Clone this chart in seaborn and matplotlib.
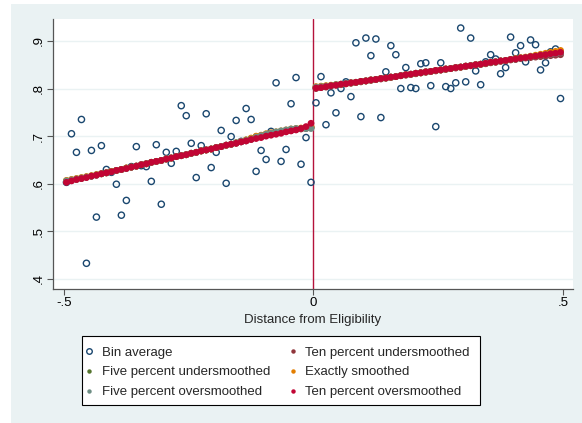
import numpy as np
import pandas as pd
import seaborn as sns
import matplotlib
matplotlib.use("Agg")
import matplotlib.pyplot as plt
from matplotlib.patches import Rectangle
from matplotlib.lines import Line2D

# ---- data ----
bin_x_left = [-0.495, -0.485, -0.475, -0.465, -0.455, -0.445, -0.435, -0.425, -0.415, -0.405,
              -0.395, -0.385, -0.375, -0.365, -0.355, -0.345, -0.335, -0.325, -0.315, -0.305,
              -0.295, -0.285, -0.275, -0.265, -0.255, -0.245, -0.235, -0.225, -0.215, -0.205,
              -0.195, -0.185, -0.175, -0.165, -0.155, -0.145, -0.135, -0.125, -0.115, -0.105,
              -0.095, -0.085, -0.075, -0.065, -0.055, -0.045, -0.035, -0.025, -0.015, -0.005]
bin_x_right = [0.005, 0.015, 0.025, 0.035, 0.045, 0.055, 0.065, 0.075, 0.085, 0.095,
               0.105, 0.115, 0.125, 0.135, 0.145, 0.155, 0.165, 0.175, 0.185, 0.195,
               0.205, 0.215, 0.225, 0.235, 0.245, 0.255, 0.265, 0.275, 0.285, 0.295,
               0.305, 0.315, 0.325, 0.335, 0.345, 0.355, 0.365, 0.375, 0.385, 0.395,
               0.405, 0.415, 0.425, 0.435, 0.445, 0.455, 0.465, 0.475, 0.485, 0.495]

bin_avg_left = [0.603, 0.705, 0.666, 0.735, 0.433, 0.670, 0.530, 0.680, 0.630, 0.624,
                0.599, 0.534, 0.565, 0.636, 0.678, 0.638, 0.636, 0.605, 0.682, 0.557,
                0.666, 0.643, 0.668, 0.764, 0.743, 0.685, 0.613, 0.680, 0.747, 0.634,
                0.666, 0.712, 0.601, 0.699, 0.733, 0.689, 0.758, 0.735, 0.626, 0.670,
                0.651, 0.710, 0.812, 0.647, 0.672, 0.768, 0.823, 0.641, 0.697, 0.603]
bin_avg_right = [0.770, 0.825, 0.724, 0.791, 0.749, 0.800, 0.814, 0.783, 0.896, 0.741,
                 0.906, 0.869, 0.904, 0.739, 0.835, 0.890, 0.871, 0.800, 0.844, 0.802,
                 0.800, 0.852, 0.854, 0.806, 0.720, 0.854, 0.804, 0.800, 0.812, 0.927,
                 0.814, 0.906, 0.837, 0.808, 0.856, 0.871, 0.862, 0.831, 0.844, 0.908,
                 0.875, 0.890, 0.856, 0.902, 0.892, 0.839, 0.854, 0.877, 0.883, 0.779]

ten_over_left = [0.603, 0.606, 0.609, 0.611, 0.613, 0.616, 0.618, 0.621, 0.623, 0.625,
                 0.628, 0.630, 0.632, 0.635, 0.637, 0.640, 0.642, 0.645, 0.647, 0.649,
                 0.652, 0.654, 0.657, 0.659, 0.661, 0.664, 0.666, 0.669, 0.671, 0.673,
                 0.676, 0.678, 0.681, 0.683, 0.685, 0.688, 0.690, 0.693, 0.695, 0.697,
                 0.700, 0.702, 0.704, 0.706, 0.709, 0.711, 0.713, 0.716, 0.720, 0.727]
ten_over_right = [0.801, 0.802, 0.804, 0.806, 0.807, 0.809, 0.810, 0.812, 0.813, 0.815,
                  0.816, 0.818, 0.819, 0.821, 0.822, 0.824, 0.825, 0.827, 0.829, 0.830,
                  0.832, 0.833, 0.835, 0.836, 0.838, 0.839, 0.841, 0.842, 0.844, 0.845,
                  0.847, 0.848, 0.850, 0.851, 0.853, 0.855, 0.856, 0.858, 0.859, 0.861,
                  0.862, 0.864, 0.865, 0.867, 0.868, 0.870, 0.871, 0.873, 0.874, 0.876]

ten_under_left = [0.604, 0.607, 0.609, 0.611, 0.614, 0.616, 0.618, 0.621, 0.623, 0.626,
                  0.628, 0.630, 0.633, 0.635, 0.637, 0.640, 0.642, 0.645, 0.647, 0.649,
                  0.652, 0.654, 0.657, 0.659, 0.661, 0.664, 0.666, 0.669, 0.671, 0.673,
                  0.676, 0.678, 0.681, 0.683, 0.685, 0.688, 0.690, 0.693, 0.697, 0.699,
                  0.702, 0.704, 0.706, 0.708, 0.710, 0.712, 0.714, 0.715, 0.716, 0.718]
ten_under_right = [0.800, 0.802, 0.803, 0.805, 0.807, 0.808, 0.810, 0.811, 0.813, 0.814,
                   0.816, 0.817, 0.819, 0.820, 0.822, 0.823, 0.825, 0.827, 0.828, 0.830,
                   0.831, 0.833, 0.834, 0.836, 0.837, 0.839, 0.840, 0.842, 0.843, 0.845,
                   0.846, 0.848, 0.849, 0.851, 0.852, 0.854, 0.855, 0.857, 0.858, 0.860,
                   0.861, 0.863, 0.864, 0.865, 0.866, 0.867, 0.868, 0.869, 0.870, 0.871]

five_under_left = [0.606, 0.608, 0.610, 0.612, 0.614, 0.616, 0.619, 0.621, 0.623, 0.626,
                   0.628, 0.630, 0.633, 0.635, 0.637, 0.640, 0.642, 0.645, 0.647, 0.649,
                   0.652, 0.654, 0.657, 0.659, 0.661, 0.664, 0.666, 0.669, 0.671, 0.673,
                   0.676, 0.678, 0.681, 0.683, 0.686, 0.689, 0.692, 0.695, 0.699, 0.701,
                   0.704, 0.706, 0.708, 0.710, 0.712, 0.714, 0.715, 0.716, 0.717, 0.718]
five_under_right = [0.802, 0.803, 0.805, 0.806, 0.808, 0.809, 0.811, 0.812, 0.813, 0.815,
                    0.816, 0.818, 0.819, 0.821, 0.822, 0.824, 0.825, 0.827, 0.829, 0.830,
                    0.832, 0.833, 0.835, 0.836, 0.838, 0.839, 0.841, 0.842, 0.844, 0.845,
                    0.847, 0.848, 0.850, 0.851, 0.853, 0.855, 0.856, 0.858, 0.859, 0.861,
                    0.862, 0.864, 0.865, 0.867, 0.868, 0.870, 0.872, 0.874, 0.875, 0.877]

exact_left = [0.607, 0.609, 0.611, 0.613, 0.615, 0.617, 0.619, 0.621, 0.623, 0.626,
              0.628, 0.630, 0.633, 0.635, 0.637, 0.640, 0.642, 0.645, 0.647, 0.649,
              0.652, 0.654, 0.657, 0.659, 0.661, 0.664, 0.666, 0.669, 0.671, 0.673,
              0.676, 0.678, 0.681, 0.683, 0.686, 0.689, 0.692, 0.696, 0.700, 0.702,
              0.705, 0.707, 0.709, 0.711, 0.713, 0.715, 0.716, 0.717, 0.718, 0.720]
exact_right = [0.804, 0.805, 0.806, 0.807, 0.808, 0.809, 0.810, 0.812, 0.813, 0.815,
               0.816, 0.818, 0.819, 0.821, 0.822, 0.824, 0.825, 0.827, 0.829, 0.830,
               0.832, 0.833, 0.835, 0.836, 0.838, 0.839, 0.841, 0.842, 0.844, 0.845,
               0.847, 0.848, 0.850, 0.851, 0.853, 0.855, 0.856, 0.858, 0.859, 0.861,
               0.863, 0.865, 0.866, 0.868, 0.870, 0.872, 0.874, 0.876, 0.878, 0.880]

five_over_left = [0.606, 0.608, 0.610, 0.612, 0.614, 0.616, 0.618, 0.621, 0.623, 0.625,
                  0.628, 0.630, 0.632, 0.635, 0.637, 0.640, 0.642, 0.645, 0.647, 0.649,
                  0.652, 0.654, 0.657, 0.659, 0.661, 0.664, 0.666, 0.669, 0.671, 0.673,
                  0.676, 0.678, 0.681, 0.683, 0.686, 0.689, 0.691, 0.694, 0.698, 0.701,
                  0.704, 0.706, 0.709, 0.711, 0.713, 0.715, 0.716, 0.716, 0.716, 0.716]
five_over_right = [0.803, 0.804, 0.805, 0.806, 0.808, 0.809, 0.811, 0.812, 0.813, 0.815,
                   0.816, 0.818, 0.819, 0.821, 0.822, 0.824, 0.825, 0.827, 0.829, 0.830,
                   0.832, 0.833, 0.835, 0.836, 0.838, 0.839, 0.841, 0.842, 0.844, 0.845,
                   0.847, 0.848, 0.850, 0.851, 0.853, 0.855, 0.856, 0.858, 0.859, 0.861,
                   0.862, 0.864, 0.865, 0.867, 0.868, 0.870, 0.871, 0.872, 0.873, 0.875]

labels = ["Bin average", "Ten percent undersmoothed", "Five percent undersmoothed",
          "Exactly smoothed", "Five percent oversmoothed", "Ten percent oversmoothed"]
x_ticks = [-0.5, 0, 0.5]
x_tick_labels = ["-.5", "0", ".5"]
y_ticks = [0.4, 0.5, 0.6, 0.7, 0.8, 0.9]
y_tick_labels = [".4", ".5", ".6", ".7", ".8", ".9"]
x_label = "Distance from Eligibility"

# ---- style ----
sns.set_style("white")
plt.rcParams["font.family"] = ["Liberation Sans", "DejaVu Sans"]

navy = "#1A476F"
colors = {
    "Ten percent undersmoothed": "#90353B",
    "Five percent undersmoothed": "#55752F",
    "Exactly smoothed": "#E37E00",
    "Five percent oversmoothed": "#6E8E84",
    "Ten percent oversmoothed": "#C10534",
}
bg = "#EAF2F3"

x_all = bin_x_left + bin_x_right
fits = {
    "Ten percent undersmoothed": ten_under_left + ten_under_right,
    "Five percent undersmoothed": five_under_left + five_under_right,
    "Exactly smoothed": exact_left + exact_right,
    "Five percent oversmoothed": five_over_left + five_over_right,
    "Ten percent oversmoothed": ten_over_left + ten_over_right,
}
bins_df = pd.DataFrame({"x": x_all, "y": bin_avg_left + bin_avg_right})

W, H = 582, 423
fig = plt.figure(figsize=(W / 100, H / 100), dpi=100)
fig.patch.set_facecolor("white")
fig.patches.append(Rectangle((11 / W, 0), 1 - 11 / W, 1 - 4 / H, transform=fig.transFigure,
                             facecolor=bg, edgecolor="none", zorder=-10))

L, R, T, B = 53, 573, 19, 289
ax = fig.add_axes([L / W, 1 - B / H, (R - L) / W, (B - T) / H])
ax.set_zorder(2)
ax.set_facecolor("white")

ax.axvline(0, color="#B5123B", lw=1.0, zorder=1)

sns.scatterplot(data=bins_df, x="x", y="y", ax=ax, marker="o", s=20,
                facecolor="none", edgecolor=navy, linewidth=1.0, zorder=3, legend=False)

for name in ["Ten percent undersmoothed", "Five percent undersmoothed", "Exactly smoothed",
             "Five percent oversmoothed", "Ten percent oversmoothed"]:
    df = pd.DataFrame({"x": x_all, "y": fits[name]})
    sns.scatterplot(data=df, x="x", y="y", ax=ax, marker="o", s=24, color=colors[name],
                    edgecolor="none", linewidth=0, zorder=4, legend=False)

ax.set_xlim(-0.522, 0.52)
ax.set_ylim(0.379, 0.946)
ax.set_xticks(x_ticks)
ax.set_xticklabels(x_tick_labels)
ax.set_yticks(y_ticks)
ax.set_yticklabels(y_tick_labels, rotation=90, va="center")
ax.grid(axis="y", color=bg, lw=1.0)
ax.set_axisbelow(True)
for s in ["top", "right"]:
    ax.spines[s].set_visible(False)
for s in ["left", "bottom"]:
    ax.spines[s].set_color("#555555")
    ax.spines[s].set_linewidth(0.9)
ax.tick_params(axis="both", direction="out", length=4, width=0.8, color="#555555",
               labelsize=9.5, labelcolor="black", pad=2, left=True, bottom=True)
ax.set_xlabel(x_label, fontsize=9.5, labelpad=3)
ax.set_ylabel("")

# legend frame drawn manually (Stata style box)
fig.patches.append(Rectangle((82 / W, 1 - 405 / H), (480 - 82) / W, (405 - 336) / H,
                             transform=fig.transFigure, facecolor="white",
                             edgecolor="black", lw=0.8, zorder=3))

def h(name):
    if name == "Bin average":
        return Line2D([], [], ls="none", marker="o", ms=4, mfc="none", mec=navy, mew=1.0)
    return Line2D([], [], ls="none", marker="o", ms=3.2, mfc=colors[name], mec="none")

order = [labels[0], labels[2], labels[4], labels[1], labels[3], labels[5]]
leg = fig.legend([h(n) for n in order], order, ncol=2, loc="upper left",
                 bbox_to_anchor=(83.5 / W, 1 - 346.5 / H), bbox_transform=fig.transFigure,
                 frameon=False, fontsize=9.5, handlelength=0.8,
                 handletextpad=0.58, columnspacing=1.3, labelspacing=0.57,
                 borderpad=0, borderaxespad=0)
leg.set_zorder(5)

fig.savefig("out.png", dpi=100, facecolor=fig.get_facecolor())
